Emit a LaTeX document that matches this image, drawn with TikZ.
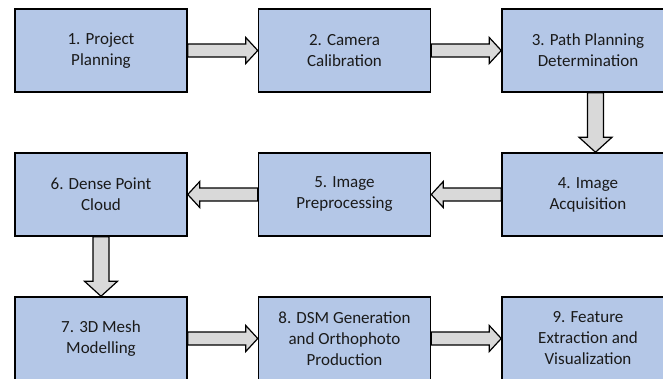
\documentclass[tikz,border=0pt]{standalone}
\usepackage{fontspec}
\setmainfont{Carlito}
\usetikzlibrary{calc}
\definecolor{boxfill}{HTML}{B4C7E7}
\definecolor{arrfill}{HTML}{D9D9D9}
\definecolor{txt}{HTML}{1A1A1A}
\tikzset{
  stepbox/.style={draw=black, line width=1.5pt, fill=boxfill, minimum width=172pt, minimum height=83pt,
    inner sep=0pt, align=center, text=txt, font=\fontsize{17}{21}\selectfont},
  flowarr/.style={draw=black, line width=1.2pt, fill=arrfill, line join=miter}
}
% horizontal arrow: #1 start anchor, #2 end anchor, #3 direction (+1 right, -1 left)
\newcommand\harr[3]{%
  \draw[flowarr] let \p1=(#1), \p2=(#2) in
    (\x1,\y1+6.5pt) -- (\x2-#3*12pt,\y1+6.5pt) -- (\x2-#3*12pt,\y1+13pt) -- (\x2,\y1)
    -- (\x2-#3*12pt,\y1-13pt) -- (\x2-#3*12pt,\y1-6.5pt) -- (\x1,\y1-6.5pt) -- cycle;}
% vertical downward arrow
\newcommand\varr[2]{%
  \draw[flowarr] let \p1=(#1), \p2=(#2) in
    (\x1-8pt,\y1) -- (\x1-8pt,\y2+15pt) -- (\x1-16.5pt,\y2+15pt) -- (\x1,\y2)
    -- (\x1+16.5pt,\y2+15pt) -- (\x1+8pt,\y2+15pt) -- (\x1+8pt,\y1) -- cycle;}
\begin{document}
\begin{tikzpicture}[x=1pt,y=-1pt]
\useasboundingbox (0,0) rectangle (663,378);
\node[stepbox] (n1) at (101,50.5) {1. Project\\Planning};
\node[stepbox] (n2) at (344.5,50.5) {2. Camera\\Calibration};
\node[stepbox] (n3) at (588,50.5) {3. Path Planning\\Determination};
\node[stepbox] (n4) at (588,194.5) {4. Image\\Acquisition};
\node[stepbox] (n5) at (344.5,194.5) {5. Image\\Preprocessing};
\node[stepbox] (n6) at (101,194.5) {6. Dense Point\\Cloud};
\node[stepbox] (n7) at (101,338.5) {7. 3D Mesh\\Modelling};
\node[stepbox] (n8) at (344.5,338.5) {8. DSM Generation\\and Orthophoto\\Production};
\node[stepbox] (n9) at (588,338.5) {9. Feature\\Extraction and\\Visualization};
\coordinate (a3) at ([xshift=7.5pt]n3.south);
\coordinate (a4) at ([xshift=7.5pt]n4.north);
\harr{n1.east}{n2.west}{1}
\harr{n2.east}{n3.west}{1}
\varr{a3}{a4}
\harr{n4.west}{n5.east}{-1}
\harr{n5.west}{n6.east}{-1}
\varr{n6.south}{n7.north}
\harr{n7.east}{n8.west}{1}
\harr{n8.east}{n9.west}{1}
\end{tikzpicture}
\end{document}
